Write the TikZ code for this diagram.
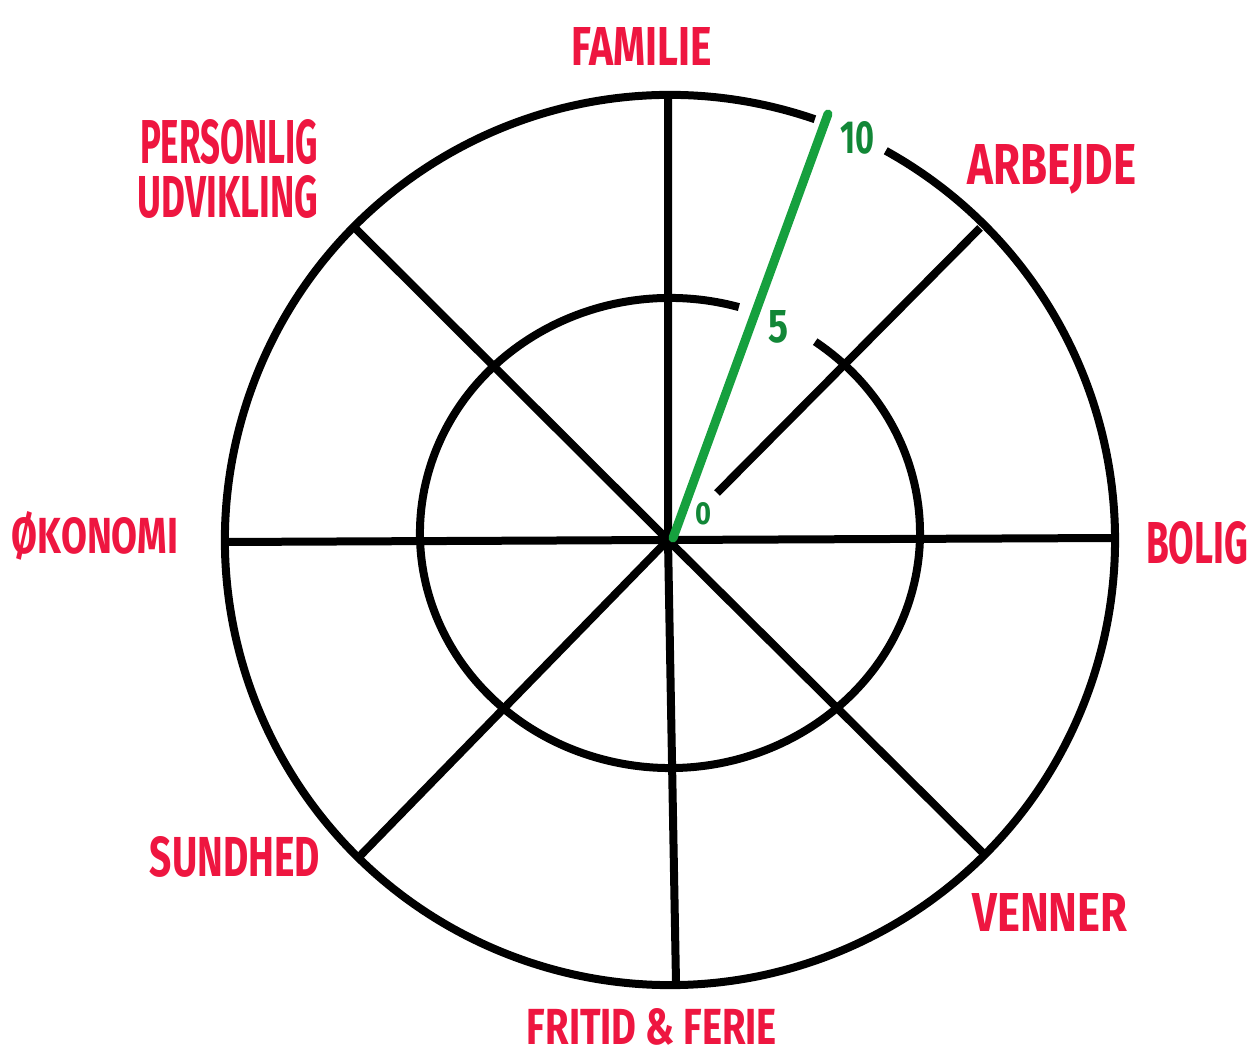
\documentclass[tikz,border=0pt]{standalone}
\usepackage{fontspec}
\setmainfont{Fira Sans}
\usepackage{graphicx}
\usetikzlibrary{calc}
\definecolor{lblred}{RGB}{238,22,64}
\definecolor{wgreen}{RGB}{22,160,62}
\definecolor{wgreentxt}{RGB}{18,135,55}
\tikzset{
  spoke/.style={line width=8pt, black},
  ring/.style={line width=8pt, black},
  score/.style={line width=9pt, wgreen, line cap=round},
  lbl/.style={text=lblred, inner sep=0pt},
  numlbl/.style={text=wgreentxt, inner sep=0pt}
}
\newcommand{\fitlbl}[3]{\resizebox{#1pt}{#2pt}{\bfseries #3}}
\begin{document}
\begin{tikzpicture}[x=1pt,y=1pt]
\useasboundingbox (0,0) rectangle (1253,1063);
% centre and spoke ends
\coordinate (c) at (668,523);
\coordinate (oc) at (670,523);
\coordinate (ic) at (670,530);
\coordinate (n) at (668,965);
\coordinate (s) at (676,80);
\coordinate (w) at (228,521);
\coordinate (e) at (1115,525);
\coordinate (nw) at (355,835);
\coordinate (se) at (985,208);
\coordinate (ne) at (980,835);
\coordinate (nes) at (717,570);
\coordinate (sw) at (358,205);
\coordinate (g0) at (673,525);
\coordinate (g10) at (828,949);
% spokes
\draw[spoke] (n) -- (c) -- (s);
\draw[spoke] (w) -- (c) -- (e);
\draw[spoke] (nw) -- (c) -- (se);
\draw[spoke] (sw) -- (c);
\draw[spoke] (nes) -- (ne);
% rings with gaps
\draw[ring] ($(oc)+(71:445)$) arc[start angle=71, end angle=421, radius=445];
\draw[ring] ($(ic)+({250*cos(74)},{235*sin(74)})$) arc[start angle=74, end angle=414.5, x radius=250, y radius=235];
% score line
\draw[score] (g0) -- (g10);
% numbers
\node[numlbl] (t10) at (857,925) {\fitlbl{34}{32}{10}};
\node[numlbl] (t5) at (778,736) {\fitlbl{20}{32}{5}};
\node[numlbl] (t0) at (703,549) {\fitlbl{16}{22}{0}};
% labels
\node[lbl] (familie) at (642,1016) {\fitlbl{140}{38}{FAMILIE}};
\node[lbl] (pers) at (229,921) {\fitlbl{178}{44}{PERSONLIG}};
\node[lbl] (udv) at (228,866) {\fitlbl{180}{42}{UDVIKLING}};
\node[lbl] (arbejde) at (1052,894) {\fitlbl{168}{40}{ARBEJDE}};
\node[lbl] (okonomi) at (95,527) {\fitlbl{166}{42}{ØKONOMI}};
\node[lbl] (bolig) at (1197,520) {\fitlbl{102}{42}{BOLIG}};
\node[lbl] (sundhed) at (235,206) {\fitlbl{170}{40}{SUNDHED}};
\node[lbl] (venner) at (1050,151) {\fitlbl{155}{38}{VENNER}};
\node[lbl] (fritid) at (652,36) {\fitlbl{250}{36}{FRITID \& FERIE}};
\end{tikzpicture}
\end{document}
